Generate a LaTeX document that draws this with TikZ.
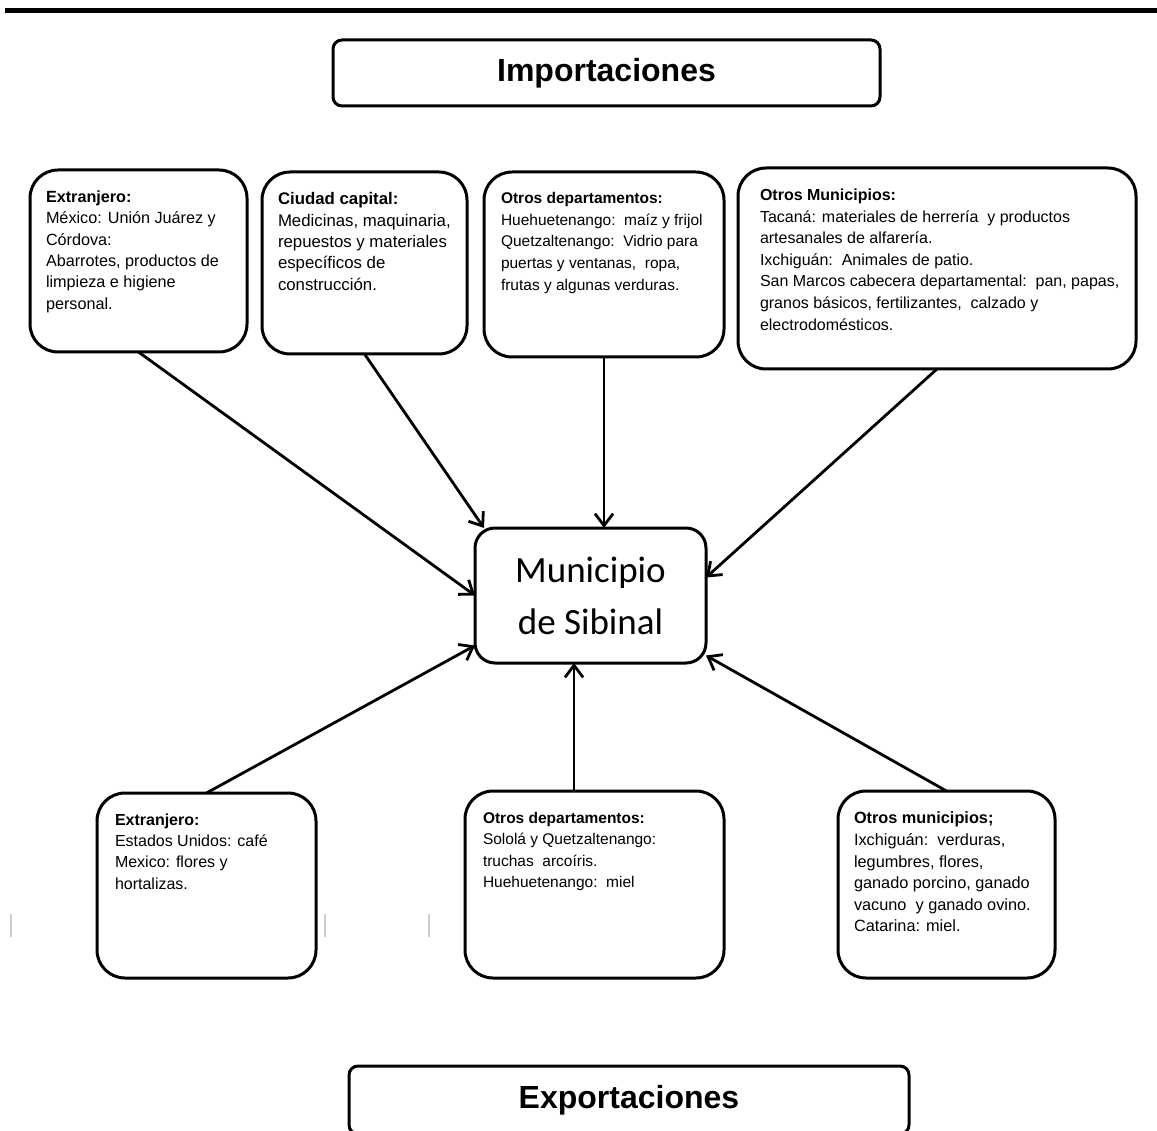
\documentclass[tikz,border=0pt]{standalone}
\usepackage{fontspec}
\setmainfont{Liberation Sans}
\newfontfamily\carlito{Carlito}
\usetikzlibrary{arrows.meta,calc}
\begin{document}
\begin{tikzpicture}[x=1pt,y=-1pt,
  box/.style={draw, line width=3pt, rounded corners=28pt, inner sep=0pt, outer sep=0pt},
  titlebox/.style={draw, line width=3pt, rounded corners=9pt, inner sep=0pt, outer sep=0pt,
    font=\fontsize{32}{36}\selectfont\bfseries},
  txt/.style={anchor=north west, inner sep=0pt, outer sep=0pt, align=left},
  arr/.style={line width=2.8pt, -{Straight Barb[length=12pt,width=18pt,line width=2.8pt]}},
  tick/.style={draw=black!20, line width=1.4pt}
  ]
\useasboundingbox (0,0) rectangle (1157,1131);
\clip (0,0) rectangle (1157,1131);
\fill[white] (0,0) rectangle (1157,1131);
% top rule
\coordinate (rl) at (5,10.5);
\coordinate (rr) at (1157,10.5);
\draw[line width=5pt] (rl) -- (rr);

% title boxes
\node[titlebox, minimum width=547, minimum height=66] (imp) at (606.5,73) {Importaciones};
\node[titlebox, minimum width=560, minimum height=68] (exp) at (629,1100) {Exportaciones};

% top boxes
\node[box, minimum width=217, minimum height=182] (b1) at (138.5,261) {};
\node[box, minimum width=205, minimum height=182] (b2) at (364.5,263) {};
\node[box, minimum width=240, minimum height=185] (b3) at (604,264.5) {};
\node[box, minimum width=398, minimum height=201] (b4) at (937,268.5) {};
% center
\node[draw, line width=3pt, rounded corners=20pt, minimum width=231, minimum height=135,
  inner sep=0pt, outer sep=0pt, align=center, font=\carlito\fontsize{37}{52}\selectfont] (m) at (590.5,595.5)
  {Municipio\\de Sibinal};
% bottom boxes
\node[box, minimum width=219, minimum height=185] (b5) at (206.5,885.5) {};
\node[box, minimum width=259, minimum height=187] (b6) at (594.5,884.5) {};
\node[box, minimum width=217, minimum height=187] (b7) at (946.5,884.5) {};

% texts
\node[txt, font=\fontsize{16.2}{21.4}\selectfont] (t1) at ([shift={(16,20.5)}]b1.north west)
  {\textbf{Extranjero:}\\México: Unión Juárez y\\Córdova:\\Abarrotes, productos de\\limpieza e higiene\\personal.};
\node[txt, font=\fontsize{16.8}{21.4}\selectfont] (t2) at ([shift={(16,20.5)}]b2.north west)
  {\textbf{Ciudad capital:}\\Medicinas, maquinaria,\\repuestos y materiales\\específicos de\\construcción.};
\node[txt, font=\fontsize{15.5}{21.6}\selectfont] (t3) at ([shift={(17,20.5)}]b3.north west)
  {\textbf{Otros departamentos:}\\Huehuetenango:\ \ maíz y frijol\\Quetzaltenango:\ \ Vidrio para\\puertas y ventanas,\ \ ropa,\\frutas y algunas verduras.};
\node[txt, font=\fontsize{16}{21.6}\selectfont] (t4) at ([shift={(22,21)}]b4.north west)
  {\textbf{Otros Municipios:}\\Tacaná: materiales de herrería\ \ y productos\\artesanales de alfarería.\\Ixchiguán:\ \ Animales de patio.\\San Marcos cabecera departamental:\ \ pan, papas,\\granos básicos, fertilizantes,\ \ calzado y\\electrodomésticos.};
\node[txt, font=\fontsize{16}{21.4}\selectfont] (t5) at ([shift={(18,20.5)}]b5.north west)
  {\textbf{Extranjero:}\\Estados Unidos: café\\Mexico: flores y\\hortalizas.};
\node[txt, font=\fontsize{15.5}{21.4}\selectfont] (t6) at ([shift={(18,21)}]b6.north west)
  {\textbf{Otros departamentos:}\\Sololá y Quetzaltenango:\\truchas\ \ arcoíris.\\Huehuetenango:\ \ miel};
\node[txt, font=\fontsize{16.3}{21.6}\selectfont] (t7) at ([shift={(16,21)}]b7.north west)
  {\textbf{Otros municipios;}\\Ixchiguán:\ \ verduras,\\legumbres, flores,\\ganado porcino, ganado\\vacuno\ \ y ganado ovino.\\Catarina: miel.};

% arrows
\draw[arr] (b1.south) -- (m.west);
\draw[arr] (b2.south) -- ([xshift=9pt]m.north west);
\draw[arr] (b3.south) -- (b3.south |- m.north);
\draw[arr] (b4.south) -- ([yshift=18pt]m.east);
\draw[arr] (b5.north) -- ([yshift=-50pt]m.west);
\draw[arr] ([xshift=-20.5pt]b6.north) -- ([xshift=-20.5pt]b6.north |- m.south);
\draw[arr] (b7.north) -- ([yshift=-60pt]m.east);

% faint marks
\coordinate (k1a) at (11,914); \coordinate (k1b) at (11,937);
\coordinate (k2a) at (325,914); \coordinate (k2b) at (325,937);
\coordinate (k3a) at (429,914); \coordinate (k3b) at (429,937);
\draw[tick] (k1a) -- (k1b);
\draw[tick] (k2a) -- (k2b);
\draw[tick] (k3a) -- (k3b);
\end{tikzpicture}
\end{document}
